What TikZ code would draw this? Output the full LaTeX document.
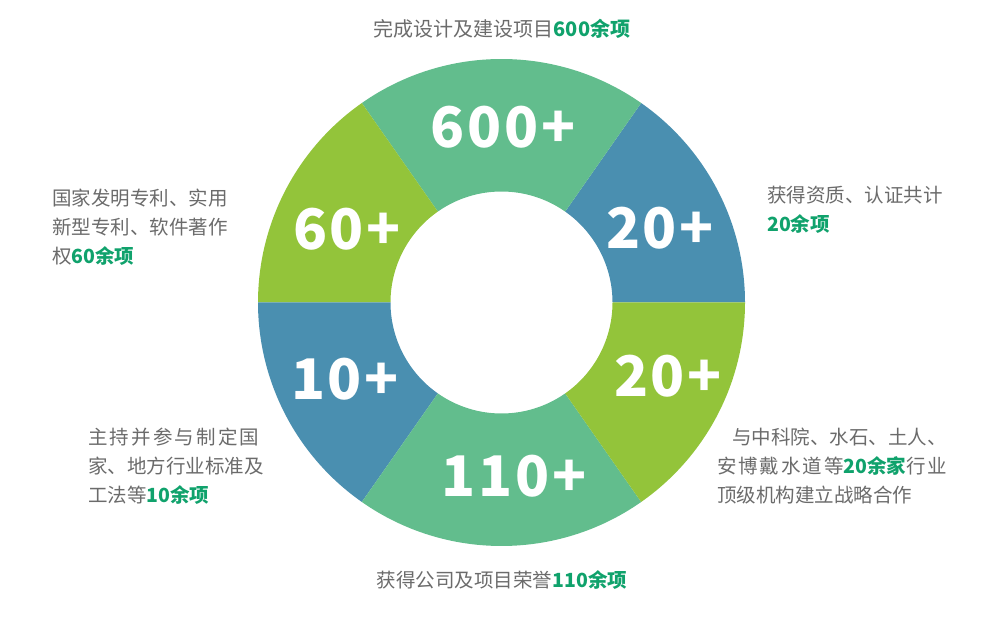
\documentclass[tikz,border=0pt]{standalone}
\usepackage{fontspec}
\usepackage{xcolor}
\usetikzlibrary{calc}
\newfontfamily\cjk{Noto Sans CJK SC}
\definecolor{ringblue}{HTML}{4A8FB0}
\definecolor{ringteal}{HTML}{62BD8D}
\definecolor{ringlime}{HTML}{93C43A}
\definecolor{notegray}{HTML}{6B6B6B}
\definecolor{notegreen}{HTML}{10A26C}
\newcommand{\hlnum}[1]{\textcolor{notegreen}{\bfseries #1}}

\begin{document}
\begin{tikzpicture}[x=1pt,y=1pt,
    numlabel/.style={text=white,inner sep=0pt,font=\cjk\bfseries\fontsize{56}{56}\selectfont\addfontfeature{LetterSpace=5}},
    note/.style={text=notegray,inner sep=0pt,align=left,anchor=base west,font=\cjk\fontsize{19.5}{29}\selectfont}]
    \useasboundingbox (0,0) rectangle (1000,624);
    \coordinate (c) at (501.5,321.5);
    % ring segments
    \foreach \a/\b/\col in {0/55/ringblue,55/125/ringteal,125/180/ringlime,180/235/ringblue,235/305/ringteal,305/360/ringlime}{
        \fill[\col] ($(c)+(\a:243.5)$) arc[start angle=\a,end angle=\b,radius=243.5]
            -- ($(c)+(\b:111)$) arc[start angle=\b,end angle=\a,radius=111] -- cycle;}
    \node[numlabel] (n600) at (503,497) {600+};
    \node[numlabel] (n60) at (347,395) {60+};
    \node[numlabel] (n20a) at (660,396) {20+};
    \node[numlabel] (n10) at (345,245) {10+};
    \node[numlabel] (n20b) at (668,248) {20+};
    \node[numlabel] (n110) at (514,148) {110+};
    % notes (base = last line)
    \node[note,anchor=base,font=\cjk\fontsize{20}{29}\selectfont] (t600) at (502,587) {完成设计及建设项目\hlnum{600余项}};
    \node[note,anchor=base] (t110) at (502,37) {获得公司及项目荣誉\hlnum{110余项}};
    \node[note] (t60) at (52,360) {国家发明专利、实用\\新型专利、软件著作\\权\hlnum{60余项}};
    \node[note] (t20a) at (767,392) {获得资质、认证共计\\\hlnum{20余项}};
    \node[note] (t10) at (88,122) {\hbox to 171pt{主\hfill 持\hfill 并\hfill 参\hfill 与\hfill 制\hfill 定\hfill 国}\\家、地方行业标准及\\工法等\hlnum{10余项}};
    \node[note] (t20b) at (717,122) {\hspace*{15pt}与中科院、水石、土人、\\\hbox to 230pt{安\hfill 博\hfill 戴\hfill 水\hfill 道\hfill 等\hlnum{20余家}行\hfill 业}\\顶级机构建立战略合作};
\end{tikzpicture}
\end{document}
